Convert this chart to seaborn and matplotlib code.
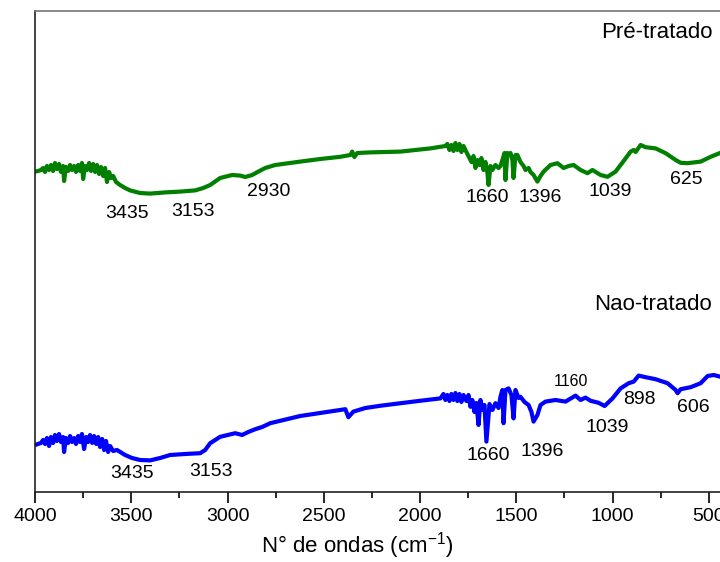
"""FTIR spectra of pre-treated and untreated samples"""

import matplotlib

matplotlib.use("Agg")
import matplotlib.pyplot as plt
import seaborn as sns
from matplotlib.ticker import MultipleLocator

# Pré-tratado spectrum (wavenumber in cm-1, transmittance in a.u.)
pre_wn = [
    4000, 3984, 3969, 3958, 3948, 3938, 3927, 3917, 3906, 3896, 3886, 3875,
    3865, 3854, 3849, 3839, 3828, 3818, 3808, 3797, 3787, 3776, 3766, 3756,
    3750, 3740, 3730, 3719, 3709, 3698, 3688, 3678, 3667, 3657, 3646, 3636,
    3626, 3615, 3605, 3594, 3579, 3558, 3532, 3506, 3454, 3402, 3324, 3246,
    3168, 3126, 3090, 3038, 2976, 2934, 2908, 2872, 2840, 2804, 2752, 2622,
    2518, 2414, 2362, 2352, 2341, 2326, 2258, 2102, 1946, 1868, 1858, 1847,
    1837, 1826, 1816, 1806, 1795, 1785, 1774, 1759, 1743, 1733, 1722, 1712,
    1702, 1691, 1681, 1670, 1660, 1650, 1644, 1634, 1624, 1608, 1592, 1582,
    1572, 1561, 1556, 1546, 1535, 1530, 1520, 1514, 1504, 1494, 1478, 1462,
    1452, 1436, 1426, 1410, 1390, 1374, 1358, 1322, 1286, 1254, 1228, 1202,
    1166, 1130, 1104, 1062, 1026, 984, 958, 932, 906, 890, 880, 854,
    828, 776, 724, 672, 646, 610, 542, 490, 438, 400,
]
pre_t = [
    80.1, 80.25, 80.5, 81.0, 80.0, 81.5, 80.5, 81.75, 80.25, 82.25, 80.75, 82.0,
    80.0, 81.5, 77.75, 81.25, 80.25, 81.75, 80.5, 81.5, 80.0, 81.75, 80.25, 82.25,
    78.25, 81.5, 80.5, 82.25, 80.25, 82.0, 80.0, 81.75, 79.5, 81.25, 79.0, 81.0,
    77.5, 80.0, 78.5, 79.0, 77.5, 76.75, 76.0, 75.4, 74.75, 74.6, 74.9, 75.1,
    75.4, 76.0, 76.75, 78.5, 79.25, 79.1, 78.75, 79.25, 80.1, 81.0, 81.75, 82.6,
    83.25, 83.8, 84.25, 85.1, 83.75, 84.75, 84.9, 85.1, 85.9, 86.5, 87.0, 85.5,
    86.75, 85.25, 87.25, 85.5, 87.0, 85.0, 86.5, 85.0, 83.5, 82.5, 84.0, 81.0,
    83.0, 81.75, 83.5, 80.5, 82.5, 80.0, 76.75, 81.5, 80.5, 81.75, 81.0, 81.5,
    83.0, 84.75, 78.0, 84.75, 84.25, 84.75, 83.0, 78.5, 84.25, 84.25, 82.5, 81.5,
    80.5, 81.0, 80.0, 79.25, 77.6, 79.0, 80.1, 81.75, 82.2, 81.0, 81.5, 81.75,
    80.5, 79.7, 80.5, 79.25, 78.8, 80.1, 81.75, 83.4, 85.1, 85.5, 85.0, 86.75,
    86.2, 85.9, 84.7, 83.0, 82.3, 82.2, 82.6, 83.8, 84.8, 86.0,
]

# Nao-tratado spectrum
nao_wn = [
    4000, 3984, 3969, 3958, 3948, 3938, 3927, 3917, 3906, 3896, 3886, 3875,
    3865, 3854, 3849, 3839, 3828, 3818, 3808, 3797, 3787, 3776, 3766, 3756,
    3745, 3734, 3724, 3714, 3703, 3693, 3682, 3672, 3662, 3651, 3641, 3631,
    3620, 3610, 3594, 3574, 3532, 3496, 3454, 3402, 3350, 3298, 3220, 3142,
    3116, 3090, 3038, 2960, 2924, 2892, 2856, 2820, 2778, 2622, 2518, 2414,
    2388, 2372, 2357, 2346, 2284, 2200, 2102, 2000, 1894, 1878, 1868, 1858,
    1847, 1837, 1826, 1816, 1806, 1795, 1785, 1774, 1759, 1748, 1738, 1728,
    1717, 1707, 1696, 1686, 1676, 1665, 1655, 1650, 1639, 1624, 1608, 1592,
    1582, 1572, 1566, 1556, 1540, 1525, 1514, 1504, 1488, 1478, 1457, 1436,
    1421, 1410, 1390, 1374, 1348, 1296, 1244, 1192, 1166, 1140, 1114, 1072,
    1041, 1000, 958, 916, 890, 864, 828, 776, 714, 672, 662, 646,
    594, 542, 506, 474, 438, 400,
]
nao_t = [
    11.75, 12.0, 12.25, 13.0, 12.0, 13.5, 11.5, 13.75, 12.25, 14.25, 12.75, 14.5,
    12.5, 13.75, 10.0, 13.5, 12.25, 14.0, 12.5, 13.5, 12.0, 14.0, 12.5, 14.5,
    10.75, 13.75, 12.5, 14.25, 12.25, 14.0, 12.0, 13.75, 11.25, 13.25, 10.5, 12.75,
    10.0, 11.5, 10.25, 10.5, 9.25, 8.5, 8.0, 7.9, 8.5, 9.25, 9.5, 9.7,
    10.5, 12.2, 13.8, 14.7, 14.25, 15.0, 15.7, 16.25, 17.2, 19.0, 19.75, 20.5,
    20.7, 18.7, 19.5, 20.1, 21.0, 21.6, 22.2, 22.8, 23.4, 24.5, 23.0, 24.25,
    22.75, 24.5, 23.0, 24.75, 22.75, 24.5, 22.5, 24.25, 22.75, 24.25, 21.3, 23.0,
    20.0, 22.25, 16.75, 23.0, 20.5, 21.75, 12.6, 15.5, 22.0, 20.5, 22.2, 21.0,
    23.8, 25.5, 17.2, 25.5, 25.9, 24.25, 18.4, 25.5, 23.5, 23.8, 22.5, 21.75,
    20.0, 17.6, 19.25, 21.75, 22.6, 23.0, 22.6, 24.1, 23.0, 23.6, 22.8, 22.3,
    21.5, 23.4, 25.9, 27.2, 27.6, 29.1, 28.7, 28.2, 27.2, 25.5, 24.7, 25.7,
    26.2, 27.2, 29.0, 29.25, 28.8, 29.0,
]

# band labels: text, wavenumber, height
pre_labels = ["3435", "3153", "2930", "1660", "1396", "1039", "625"]
pre_label_wn = [3522, 3178, 2788, 1650, 1374, 1010, 615]
pre_label_t = [69.75, 70.0, 75.25, 73.5, 73.75, 75.0, 78.0]

nao_labels = ["3435", "3153", "1660", "1396", "1039", "898", "606"]
nao_label_wn = [3496, 3085, 1644, 1364, 1026, 859, 578]
nao_label_t = [4.75, 5.25, 9.25, 10.0, 16.25, 23.25, 21.25]

sns.set_theme(style="white")
plt.rcParams["font.family"] = ["Liberation Sans", "DejaVu Sans"]
plt.rcParams["mathtext.default"] = "regular"
plt.rcParams["text.color"] = "black"
plt.rcParams["axes.labelcolor"] = "black"
plt.rcParams["xtick.color"] = "black"

fig = plt.figure(figsize=(7.2, 5.62), dpi=100)
# axes run past the right edge of the picture, like the original crop
ax = fig.add_axes([35 / 720, 70 / 562, 693 / 720, 481 / 562])

sns.lineplot(x=pre_wn, y=pre_t, color="#007F00", linewidth=3,
             estimator=None, sort=False, ax=ax)
sns.lineplot(x=nao_wn, y=nao_t, color="#0000FF", linewidth=3,
             estimator=None, sort=False, ax=ax)

for txt, wn, t in zip(pre_labels, pre_label_wn, pre_label_t):
    ax.text(wn, t, txt, ha="center", va="center", fontsize=14)
for txt, wn, t in zip(nao_labels, nao_label_wn, nao_label_t):
    ax.text(wn, t, txt, ha="center", va="center", fontsize=14)
ax.text(1218, 27.5, "1160", ha="center", va="center", fontsize=11.5)

ax.text(1057, 114.75, "Pré-tratado", ha="left", va="center", fontsize=16)
ax.text(1098, 46.75, "Nao-tratado", ha="left", va="center", fontsize=16)

ax.set_xlim(4000, 400)
ax.set_ylim(0, 120.25)
ax.set_yticks([])
ax.xaxis.set_major_locator(MultipleLocator(500))
ax.xaxis.set_minor_locator(MultipleLocator(250))
ax.tick_params(axis="x", which="major", direction="out", length=8, width=1.2,
               labelsize=14, bottom=True, colors="black")
ax.tick_params(axis="x", which="minor", direction="out", length=4.5, width=1.2,
               bottom=True)
ax.set_xlabel(r"N° de ondas (cm$^{-1}$)", fontsize=16)
ax.xaxis.set_label_coords(0.465, -0.08)
ax.set_ylabel("")

for side in ["left", "bottom"]:
    ax.spines[side].set_color("#222222")
    ax.spines[side].set_linewidth(1.2)
ax.spines["top"].set_color("#777777")
ax.spines["top"].set_linewidth(1.2)

fig.savefig("out.png", dpi=100)
